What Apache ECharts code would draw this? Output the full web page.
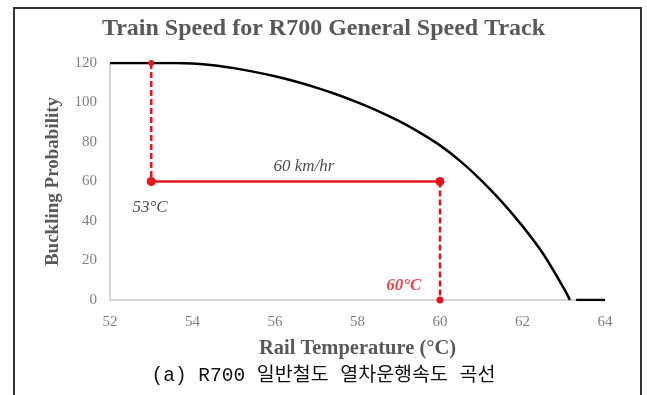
<!DOCTYPE html>
<html>
<head>
<meta charset="utf-8">
<script src="https://cdn.jsdelivr.net/npm/echarts@6/dist/echarts.min.js"></script>
<style>
html,body{margin:0;padding:0;background:#fff;}
#chart{width:647px;height:395px;}
</style>
</head>
<body>
<div id="chart"></div>
<script>
// Curve data (rail temperature vs value)
const curveTemp  = [52, 53, 53.6, 54, 54.5, 55, 55.5, 56, 56.5, 57, 57.5, 58, 58.5, 59, 59.5, 60, 60.5, 61, 61.5, 62, 62.5, 63, 63.15];
const curveValue = [120, 120, 120, 119.8, 118.9, 117.4, 115.5, 113.25, 110.6, 107.55, 104.05, 100.05, 95.65, 90.65, 84.9, 78.3, 70.2, 60.6, 49.7, 37.4, 23.4, 6, 0];
const tailTemp   = [63.3, 64];
const tailValue  = [0, 0];
// Speed limit guide lines
const lowTemp = 53;
const highTemp = 60;
const speedLevel = 60;
const topLevel = 120;
// Annotations
const annoText  = ['60 km/hr', '53°C', '60°C'];
const annoTemp  = [56.7, 52.97, 59.12];
const annoValue = [67.5, 47, 7.5];
// Axis ticks
const xTicks = { min: 52, max: 64, interval: 2 };
const yTicks = { min: 0, max: 120, interval: 20 };

const red = '#e8141c';
const serif = '"Liberation Serif", "Times New Roman", serif';

const chart = echarts.init(document.getElementById('chart'));
chart.setOption({
  animation: false,
  backgroundColor: '#fff',
  title: {
    text: 'Train Speed for R700 General Speed Track',
    left: 'center',
    top: 12,
    textStyle: { fontFamily: serif, fontWeight: 'bold', fontSize: 24, color: '#595959' }
  },
  graphic: [
    { type: 'rect', shape: { x: 14, y: 8, width: 627, height: 400 }, style: { fill: 'none', stroke: '#333', lineWidth: 2 }, z: 100 },
    { type: 'text', left: 'center', top: 366, style: { text: '(a) R700 일반철도 열차운행속도 곡선', font: '19.5px "Liberation Mono", "Noto Sans CJK KR"', fill: '#111' } }
  ],
  grid: { left: 110, right: 42, top: 63, bottom: 95 },
  xAxis: {
    type: 'value', min: xTicks.min, max: xTicks.max, interval: xTicks.interval,
    name: 'Rail Temperature (°C)', nameLocation: 'middle', nameGap: 38,
    nameTextStyle: { fontFamily: serif, fontWeight: 'bold', fontSize: 20.5, color: '#595959' },
    axisLine: { lineStyle: { color: '#c8c8c8', width: 1.5 } },
    axisTick: { show: false },
    splitLine: { show: false },
    axisLabel: { fontFamily: serif, fontSize: 15, color: '#7f7f7f', margin: 15 }
  },
  yAxis: {
    type: 'value', min: yTicks.min, max: yTicks.max, interval: yTicks.interval,
    name: 'Buckling Probability', nameLocation: 'middle', nameGap: 47,
    nameTextStyle: { fontFamily: serif, fontWeight: 'bold', fontSize: 19, color: '#595959' },
    axisLine: { show: true, lineStyle: { color: '#c8c8c8', width: 1.5 } },
    axisTick: { show: false },
    splitLine: { show: false },
    axisLabel: { fontFamily: serif, fontSize: 15, color: '#7f7f7f', margin: 13 }
  },
  series: [
    {
      type: 'line', data: curveTemp.map((t, i) => [t, curveValue[i]]),
      smooth: 0.3, showSymbol: false, lineStyle: { color: '#000', width: 2.5 }, z: 3
    },
    {
      type: 'line', data: tailTemp.map((t, i) => [t, tailValue[i]]),
      showSymbol: false, lineStyle: { color: '#000', width: 2.5 }, z: 3
    },
    {
      type: 'line', data: [[lowTemp, topLevel], [lowTemp, speedLevel]],
      symbol: 'circle', symbolSize: 6, itemStyle: { color: red },
      lineStyle: { color: red, width: 2.5, type: [6, 3] }, z: 4
    },
    {
      type: 'line', data: [[lowTemp, speedLevel], [highTemp, speedLevel]],
      symbol: 'circle', symbolSize: 9, itemStyle: { color: red },
      lineStyle: { color: red, width: 2.5 }, z: 5
    },
    {
      type: 'line', data: [[highTemp, speedLevel], [highTemp, 0]],
      symbol: 'circle', symbolSize: 7, itemStyle: { color: red },
      lineStyle: { color: red, width: 2.5, type: [6, 3] }, z: 4
    },
    {
      type: 'scatter', symbolSize: 0, silent: true,
      data: annoText.map((s, i) => ({
        value: [annoTemp[i], annoValue[i]], name: s,
        label: i === 2 ? { color: red, fontWeight: 'bold' } : {}
      })),
      label: {
        show: true, position: 'inside', formatter: p => p.name,
        fontFamily: serif, fontStyle: 'italic', fontSize: 17, color: '#222'
      },
      z: 6
    }
  ]
});
</script>
</body>
</html>
